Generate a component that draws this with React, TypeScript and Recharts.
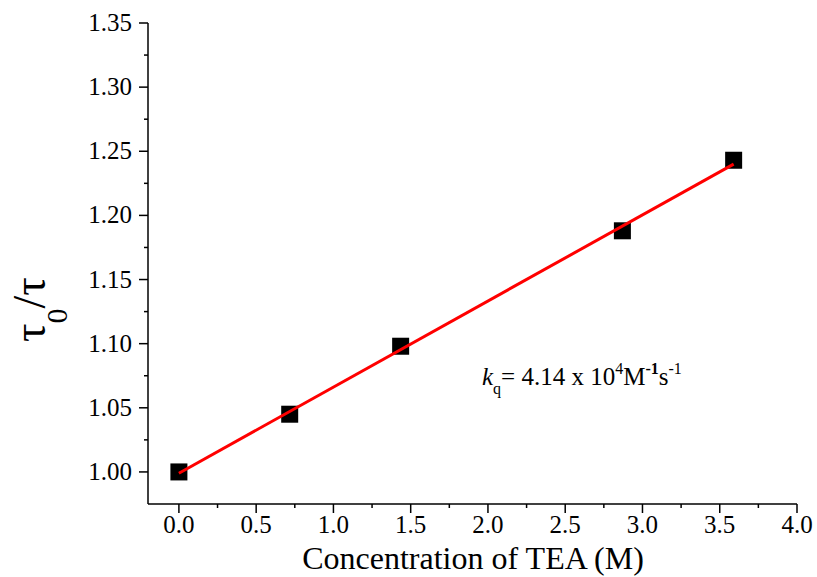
import { ScatterChart, Scatter, XAxis, YAxis } from "recharts";

const concentration = [0, 0.717, 1.435, 2.87, 3.59];
const tauRatio = [1.0, 1.045, 1.098, 1.188, 1.243];

// linear fit end points
const fitX = [0, 3.59];
const fitY = [0.999, 1.24];

const xTicks = [0, 0.25, 0.5, 0.75, 1, 1.25, 1.5, 1.75, 2, 2.25, 2.5, 2.75, 3, 3.25, 3.5, 3.75, 4];
const yTicks = [1.0, 1.025, 1.05, 1.075, 1.1, 1.125, 1.15, 1.175, 1.2, 1.225, 1.25, 1.275, 1.3, 1.325, 1.35];

const points = concentration.map((x, i) => ({ x, y: tauRatio[i] }));
const fit = fitX.map((x, i) => ({ x, y: fitY[i] }));

const FONT = "'Liberation Serif', 'Times New Roman', serif";

const isMajor = (v: number, step: number) => Math.abs(v / step - Math.round(v / step)) < 1e-6;

function XTick({ x, y, payload }: any) {
  const major = isMajor(payload.value, 0.5);
  return (
    <g>
      <line x1={x} x2={x} y1={y} y2={y + (major ? 9 : 4)} stroke="#000" strokeWidth={1.5} />
      {major && (
        <text x={x} y={y + 29} textAnchor="middle" fontSize={25} fontFamily={FONT} fill="#000">
          {payload.value.toFixed(1)}
        </text>
      )}
    </g>
  );
}

function YTick({ x, y, payload }: any) {
  const major = isMajor(payload.value, 0.05);
  return (
    <g>
      <line x1={x} x2={x - (major ? 9 : 4)} y1={y} y2={y} stroke="#000" strokeWidth={1.5} />
      {major && (
        <text x={x - 16} y={y + 8} textAnchor="end" fontSize={25} fontFamily={FONT} fill="#000">
          {payload.value.toFixed(2)}
        </text>
      )}
    </g>
  );
}

function XLabel() {
  return (
    <text x={473} y={569} textAnchor="middle" fontSize={32} fontFamily={FONT} fill="#000">
      Concentration of TEA (M)
    </text>
  );
}

function YLabel() {
  return (
    <text transform="rotate(-90)" x={-342} y={45} fontSize={46} fontFamily={FONT} fill="#000">
      τ
      <tspan fontSize={30} dy={22}>0</tspan>
      <tspan dy={-22}>/τ</tspan>
    </text>
  );
}

const Square = ({ cx, cy }: any) => <rect x={cx - 8.5} y={cy - 8.5} width={17} height={17} fill="#000" />;

export default function App() {
  return (
    <div style={{ position: "absolute", left: 0, top: 0, width: 817, height: 577, background: "#fff" }}>
      <ScatterChart width={817} height={577} margin={{ top: 23, right: 20, bottom: 0, left: 0 }}>
        <XAxis
          type="number"
          dataKey="x"
          domain={[-0.2, 4]}
          allowDataOverflow
          ticks={xTicks}
          interval={0}
          height={73}
          tickLine={false}
          tickSize={0}
          tickMargin={0}
          tick={<XTick />}
          axisLine={{ stroke: "#000", strokeWidth: 1.5 }}
          label={<XLabel />}
        />
        <YAxis
          type="number"
          dataKey="y"
          domain={[0.975, 1.35]}
          allowDataOverflow
          ticks={yTicks}
          interval={0}
          width={148}
          tickLine={false}
          tickSize={0}
          tickMargin={0}
          tick={<YTick />}
          axisLine={{ stroke: "#000", strokeWidth: 1.5 }}
          label={<YLabel />}
        />
        <Scatter data={points} shape={<Square />} isAnimationActive={false} />
        <Scatter
          data={fit}
          line={{ stroke: "#ff0000", strokeWidth: 3 }}
          shape={() => <g />}
          isAnimationActive={false}
        />
      </ScatterChart>
      <svg width={817} height={577} style={{ position: "absolute", left: 0, top: 0, pointerEvents: "none" }}>
        <text x={482} y={385} fontSize={25} fontFamily={FONT} fill="#000">
          <tspan fontStyle="italic">k</tspan>
          <tspan fontSize={16} dy={9}>q</tspan>
          <tspan dy={-9}>= 4.14 x 10</tspan>
          <tspan fontSize={16} dy={-11}>4</tspan>
          <tspan dy={11}>M</tspan>
          <tspan fontSize={16} fontWeight="bold" dy={-11}>-1</tspan>
          <tspan dy={11}>s</tspan>
          <tspan fontSize={16} dy={-11}>-1</tspan>
        </text>
      </svg>
    </div>
  );
}
